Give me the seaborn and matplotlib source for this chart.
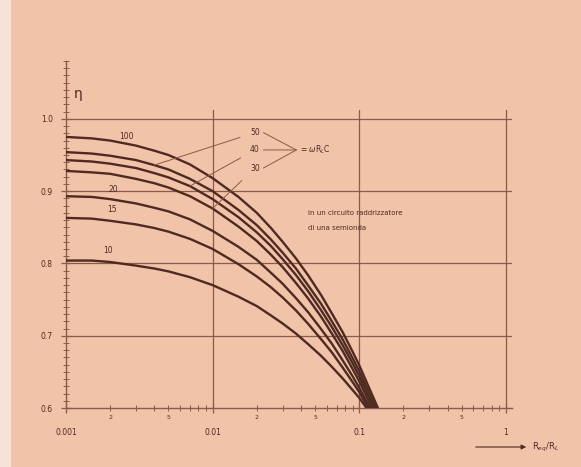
import numpy as np
import matplotlib
matplotlib.use("Agg")
import matplotlib.pyplot as plt
import matplotlib.ticker as mticker
import matplotlib.patches as mpatches
import seaborn as sns
import pandas as pd

# ascisse comuni (R_eq/R_L)
X_GRID = [0.001, 0.0015, 0.002, 0.003, 0.004, 0.005, 0.007, 0.01, 0.015, 0.02,
          0.025, 0.03, 0.037, 0.045, 0.055, 0.065, 0.077, 0.09, 0.1]

# rendimento per ogni valore di wR_LC
ETA_100 = [0.975, 0.973, 0.970, 0.963, 0.956, 0.950, 0.937, 0.918, 0.892, 0.870,
           0.849, 0.830, 0.807, 0.783, 0.756, 0.731, 0.705, 0.678, 0.659]
ETA_50 = [0.954, 0.952, 0.949, 0.943, 0.936, 0.930, 0.917, 0.900, 0.874, 0.853,
          0.833, 0.815, 0.793, 0.769, 0.744, 0.720, 0.695, 0.669, 0.651]
ETA_40 = [0.943, 0.941, 0.938, 0.932, 0.925, 0.919, 0.907, 0.889, 0.864, 0.843,
          0.824, 0.806, 0.784, 0.761, 0.735, 0.712, 0.687, 0.662, 0.644]
ETA_30 = [0.928, 0.926, 0.924, 0.917, 0.911, 0.905, 0.893, 0.876, 0.851, 0.831,
          0.812, 0.795, 0.773, 0.751, 0.726, 0.703, 0.679, 0.654, 0.637]
ETA_20 = [0.893, 0.892, 0.889, 0.883, 0.877, 0.872, 0.861, 0.845, 0.823, 0.805,
          0.787, 0.772, 0.752, 0.732, 0.709, 0.689, 0.666, 0.644, 0.628]
ETA_15 = [0.863, 0.862, 0.859, 0.854, 0.849, 0.844, 0.834, 0.820, 0.799, 0.782,
          0.767, 0.753, 0.735, 0.716, 0.695, 0.677, 0.656, 0.636, 0.622]
ETA_10 = [0.804, 0.804, 0.802, 0.797, 0.793, 0.789, 0.781, 0.770, 0.754, 0.741,
          0.728, 0.717, 0.703, 0.688, 0.672, 0.657, 0.641, 0.625, 0.614]

# punto finale di ogni curva (eta = 0.6)
X_END = {"100": 0.134, "50": 0.130, "40": 0.126, "30": 0.122, "20": 0.118, "15": 0.115, "10": 0.112}
ETA_END = 0.6

CURVES = {"100": ETA_100, "50": ETA_50, "40": ETA_40, "30": ETA_30,
          "20": ETA_20, "15": ETA_15, "10": ETA_10}

Y_TICKS = [0.6, 0.7, 0.8, 0.9, 1.0]
Y_LABELS = ["0.6", "0.7", "0.8", "0.9", "1.0"]
X_TICKS = [0.001, 0.01, 0.1, 1]
X_LABELS = ["0.001", "0.01", "0.1", "1"]

BG = "#f1c3a9"
INK = "#4e2a22"
GRID = "#8c5a48"

rows = []
for name, eta in CURVES.items():
    for xv, yv in zip(X_GRID + [X_END[name]], eta + [ETA_END]):
        rows.append({"x": xv, "eta": yv, "n": name})
df = pd.DataFrame(rows)

sns.set_theme(style="white")
plt.rcParams["font.family"] = ["DejaVu Sans"]

fig = plt.figure(figsize=(5.81, 4.67), dpi=100)
fig.patch.set_facecolor(BG)
# striscia chiara sul bordo sinistro della scansione
fig.add_artist(mpatches.Rectangle((0, 0), 11 / 581, 1, transform=fig.transFigure,
                                  facecolor="#f7e2d8", edgecolor="none", zorder=0))
ax = fig.add_axes([0.1136, 0.1263, 0.7676, 0.743])
ax.set_facecolor(BG)

# griglia
for yv in [0.7, 0.8, 0.9, 1.0]:
    ax.axhline(yv, color=GRID, lw=0.9, zorder=1)
for xv in [0.01, 0.1, 1]:
    ax.plot([xv, xv], [0.6, 1.012], color=GRID, lw=0.9, zorder=1)

sns.lineplot(data=df, x="x", y="eta", hue="n", units="n", estimator=None,
             sort=False, palette=[INK] * len(CURVES), legend=False,
             lw=1.7, ax=ax, zorder=3)

ax.set_xscale("log")
ax.set_xlim(0.001, 1.1)
ax.set_ylim(0.6, 1.08)
ax.set_xlabel("")
ax.set_ylabel("")

for s in ["top", "right"]:
    ax.spines[s].set_visible(False)
for s in ["left", "bottom"]:
    ax.spines[s].set_color(GRID)
    ax.spines[s].set_linewidth(1.0)

ax.set_yticks(Y_TICKS)
ax.set_yticklabels(Y_LABELS)
ax.yaxis.set_minor_locator(mticker.MultipleLocator(0.01))
ax.tick_params(axis="y", which="major", direction="inout", length=7,
               width=0.9, color=GRID, labelsize=5.5, labelcolor=INK, pad=6, left=True)
ax.tick_params(axis="y", which="minor", direction="inout", length=4,
               width=0.7, color=GRID, left=True)


def minor_label(v, pos):
    m = int(round(v / 10 ** np.floor(np.log10(v) + 1e-9)))
    return str(m) if m in (2, 5) else ""


minor_x = [m * 10.0 ** e for e in (-3, -2, -1) for m in range(2, 10)]
ax.set_xticks(X_TICKS)
ax.set_xticklabels(X_LABELS)
ax.xaxis.set_minor_locator(mticker.FixedLocator(minor_x))
ax.xaxis.set_minor_formatter(mticker.FuncFormatter(minor_label))
ax.tick_params(axis="x", which="major", direction="inout", length=7,
               width=0.9, color=GRID, labelsize=5.5, labelcolor=INK, pad=11, bottom=True)
ax.tick_params(axis="x", which="minor", direction="inout", length=4,
               width=0.7, color=GRID, labelsize=4.5, labelcolor=INK, pad=3, bottom=True)

# etichette delle curve
ax.text(0.0026, 0.969, "100", fontsize=5.5, color=INK, ha="center", va="bottom")
ax.text(0.00209, 0.896, "20", fontsize=5.5, color=INK, ha="center", va="bottom")
ax.text(0.00206, 0.868, "15", fontsize=5.5, color=INK, ha="center", va="bottom")
ax.text(0.00193, 0.812, "10", fontsize=5.5, color=INK, ha="center", va="bottom")

line_kw = dict(arrowstyle="-", color=GRID, lw=0.7)
for name, yl, idx in [("50", 0.981, 4), ("40", 0.957, 6), ("30", 0.932, 7)]:
    ax.annotate(name, xy=(X_GRID[idx], CURVES[name][idx]), xytext=(0.0194, yl),
                fontsize=5.5, color=INK, ha="center", va="center",
                arrowprops=dict(shrinkA=5, shrinkB=0, **line_kw))
    ax.annotate("", xy=(0.0372, 0.957), xytext=(0.0222, yl),
                arrowprops=dict(shrinkA=0, shrinkB=0, **line_kw))
ax.text(0.0392, 0.957, r"= $\omega$R$_L$C", fontsize=5.5, color=INK,
        ha="left", va="center")

ax.text(0.0445, 0.870, "in un circuito raddrizzatore", fontsize=5, color=INK,
        ha="left", va="center")
ax.text(0.0445, 0.849, "di una semionda", fontsize=5, color=INK,
        ha="left", va="center")

ax.text(0.00121, 1.035, "η", fontsize=10, color=INK, ha="center", va="center")

# etichetta asse x con freccia
fig.text(532 / 581, 1 - 447 / 467, r"R$_{eq}$/R$_L$", fontsize=6, color=INK,
         ha="left", va="center")
fig.add_artist(mpatches.FancyArrowPatch(
    (473 / 581, 1 - 447 / 467), (529 / 581, 1 - 447 / 467),
    transform=fig.transFigure, arrowstyle="-|>", mutation_scale=7,
    color=INK, lw=0.8))

fig.savefig("out.png", dpi=100, facecolor=BG)
